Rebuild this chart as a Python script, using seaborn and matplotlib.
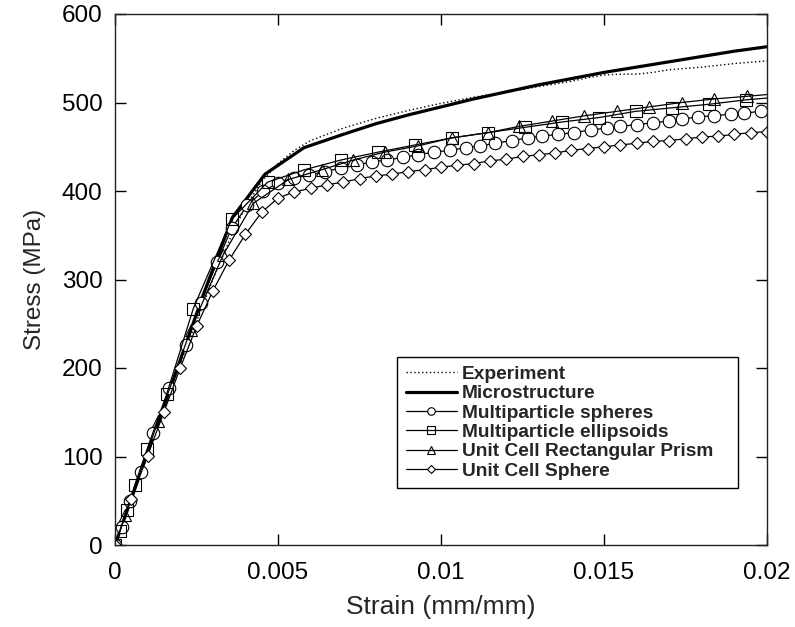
import matplotlib
matplotlib.use("Agg")
import matplotlib.pyplot as plt
import seaborn as sns
import pandas as pd

# Stress-strain curves (strain in mm/mm, stress in MPa)
exp_strain = [0, 0.001, 0.002, 0.003, 0.0036, 0.004, 0.0045, 0.005, 0.0055, 0.006,
              0.007, 0.008, 0.009, 0.010, 0.011, 0.012, 0.013, 0.014, 0.0145, 0.015,
              0.0155, 0.016, 0.0165, 0.017, 0.018, 0.019, 0.020]
exp_stress = [0, 103, 205, 300, 352, 382, 411, 431, 446, 457,
              471, 482, 491, 499, 506, 512, 518, 524, 528, 531,
              532, 532, 534, 537, 540, 544, 547]

micro_strain = [0, 0.0009, 0.0018, 0.0027, 0.0036, 0.0046, 0.0058, 0.007, 0.008, 0.009,
                0.010, 0.011, 0.012, 0.013, 0.014, 0.015, 0.016, 0.017, 0.018, 0.019, 0.020]
micro_stress = [0, 94, 188, 282, 370, 419, 449, 464, 476, 486,
                495, 504, 512, 520, 527, 534, 540, 546, 552, 558, 563]

msph_strain = [0, 0.0002, 0.00046, 0.00079, 0.00118, 0.00167, 0.00218, 0.00263, 0.00314,
               0.00358, 0.00406, 0.00455, 0.005, 0.00549, 0.00595, 0.00644, 0.00693,
               0.00741, 0.00787, 0.00835, 0.00883, 0.0093, 0.00979, 0.01028, 0.01076,
               0.01121, 0.01167, 0.01217, 0.01268, 0.01309, 0.01359, 0.01408, 0.0146,
               0.01508, 0.01549, 0.016, 0.01649, 0.01699, 0.01738, 0.01789, 0.01838,
               0.0189, 0.01929, 0.01981, 0.02]
msph_stress = [0, 20, 50, 83, 126, 177, 226, 274, 320,
               358, 384, 400, 409, 415, 418, 422, 426,
               429, 433, 435, 438, 441, 444, 446, 449,
               451, 454, 457, 460, 462, 464, 466, 469,
               471, 473, 475, 477, 479, 481, 484, 485,
               487, 488, 490, 491]

mell_strain = [0, 0.00015, 0.00036, 0.00061, 0.00099, 0.00159, 0.0024, 0.00358, 0.00468,
               0.00581, 0.00693, 0.00808, 0.0092, 0.01033, 0.01145, 0.01258, 0.01372,
               0.01485, 0.01597, 0.01709, 0.01822, 0.01935, 0.02]
mell_stress = [0, 16, 40, 68, 109, 171, 267, 368, 410,
               424, 435, 444, 452, 460, 466, 472, 478,
               483, 490, 494, 498, 503, 505]

ucrp_strain = [0, 0.00032, 0.00132, 0.00232, 0.00332, 0.00424, 0.00532, 0.00634, 0.00731,
               0.00828, 0.0093, 0.01033, 0.01145, 0.01239, 0.0134, 0.0144, 0.01539,
               0.01638, 0.01738, 0.01838, 0.01938, 0.02]
ucrp_stress = [0, 34, 140, 243, 328, 386, 413, 424, 435,
               444, 451, 460, 466, 473, 479, 485, 490,
               495, 500, 504, 507, 509]

ucs_strain = [0, 0.0005, 0.001, 0.0015, 0.002, 0.0025, 0.003, 0.0035, 0.004, 0.0045,
              0.005, 0.0055, 0.006, 0.0065, 0.007, 0.0075, 0.008, 0.0085, 0.009, 0.0095,
              0.010, 0.0105, 0.011, 0.0115, 0.012, 0.0125, 0.013, 0.0135, 0.014, 0.0145,
              0.015, 0.0155, 0.016, 0.0165, 0.017, 0.0175, 0.018, 0.0185, 0.019, 0.0195, 0.020]
ucs_stress = [0, 52, 101, 150, 200, 247, 287, 322, 351, 376,
              392, 399, 403, 407, 410, 414, 417, 419, 422, 424,
              427, 429, 431, 434, 436, 439, 441, 443, 446, 448,
              450, 452, 454, 456, 457, 459, 461, 462, 464, 466, 467]

x_ticks = [0, 0.005, 0.01, 0.015, 0.02]
x_ticklabels = ["0", "0.005", "0.01", "0.015", "0.02"]
y_ticks = [0, 100, 200, 300, 400, 500, 600]

sns.set_theme(style="ticks")
plt.rcParams["font.family"] = ["Liberation Sans", "DejaVu Sans"]

fig = plt.figure(figsize=(7.95, 6.27), dpi=100)
ax = fig.add_axes([115 / 795, 1 - 545 / 627, (767 - 115) / 795, (545 - 14) / 627])

def frame(x, y):
    return pd.DataFrame({"strain": x, "stress": y})

common = dict(x="strain", y="stress", ax=ax, sort=False, estimator=None, color="black")

sns.lineplot(data=frame(exp_strain, exp_stress), linestyle=(0, (1.0, 1.8)),
             linewidth=1.0, label="Experiment", **common)
sns.lineplot(data=frame(micro_strain, micro_stress), linewidth=2.3,
             label="Microstructure", **common)
sns.lineplot(data=frame(msph_strain, msph_stress), linewidth=0.9, marker="o",
             markersize=9, markerfacecolor="white", markeredgecolor="black",
             markeredgewidth=0.8, markevery=slice(0, len(msph_strain) - 1),
             label="Multiparticle spheres", **common)
sns.lineplot(data=frame(mell_strain, mell_stress), linewidth=0.9, marker="s",
             markersize=9, markerfacecolor="none", markeredgecolor="black",
             markeredgewidth=0.8, markevery=slice(0, len(mell_strain) - 1),
             label="Multiparticle ellipsoids", **common)
sns.lineplot(data=frame(ucrp_strain, ucrp_stress), linewidth=0.9, marker="^",
             markersize=9, markerfacecolor="none", markeredgecolor="black",
             markeredgewidth=0.8, markevery=slice(0, len(ucrp_strain) - 1),
             label="Unit Cell Rectangular Prism", **common)
sns.lineplot(data=frame(ucs_strain, ucs_stress), linewidth=0.9, marker="D",
             markersize=6.5, markerfacecolor="white", markeredgecolor="black",
             markeredgewidth=0.8, label="Unit Cell Sphere", **common)

ax.set_xlim(0, 0.02)
ax.set_ylim(0, 600)
ax.set_xticks(x_ticks)
ax.set_xticklabels(x_ticklabels)
ax.set_yticks(y_ticks)
ax.tick_params(direction="in", length=8, width=1, colors="black", labelsize=17.5,
               top=True, right=True)
ax.tick_params(axis="x", pad=12)
ax.tick_params(axis="y", pad=9)
for side in ax.spines.values():
    side.set_visible(True)
    side.set_linewidth(1.0)
    side.set_color("#222222")

ax.set_xlabel("Strain (mm/mm)", fontsize=19, labelpad=8)
ax.set_ylabel("Stress (MPa)", fontsize=17.5, labelpad=11)

leg = ax.legend(loc="upper left", bbox_to_anchor=(0.4325, 0.0998, 0.523, 0.2542),
                mode="expand", borderaxespad=0,
                frameon=True, fancybox=False, edgecolor="black", framealpha=1,
                prop={"weight": "bold", "size": 13.8}, handlelength=2.7,
                handletextpad=0.25, labelspacing=0.1, borderpad=0.45,
                markerscale=0.6)
leg.get_frame().set_linewidth(1.0)

fig.savefig("out.png", dpi=100)
